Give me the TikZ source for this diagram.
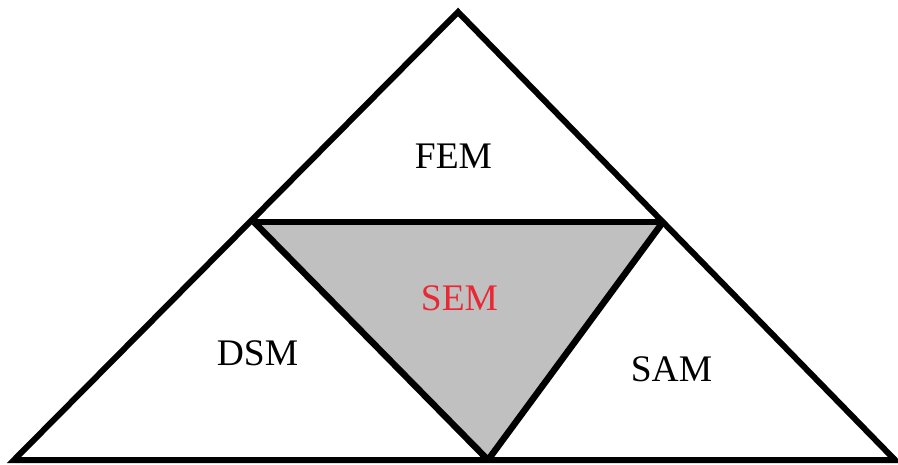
\documentclass[tikz,border=0pt]{standalone}
\usepackage{fontspec}
\setmainfont{Liberation Serif}
\definecolor{semred}{RGB}{232,40,52}
\definecolor{semgray}{RGB}{192,192,192}
\tikzset{
  edge/.style={line width=6pt, line join=miter, draw=black},
  inner/.style={line width=6.5pt, line join=bevel, draw=black},
  lbl/.style={font=\fontsize{37.5}{40}\selectfont, anchor=base, inner sep=0pt}
}
\begin{document}
\begin{tikzpicture}[x=1pt,y=-1pt]
\useasboundingbox (0,0) rectangle (898,464);
\coordinate (A) at (458,12);
\coordinate (L) at (14,460);
\coordinate (R) at (895,460);
\coordinate (P) at (254,222);
\coordinate (Q) at (663,222);
\coordinate (B) at (488,460);
\fill[semgray] (P) -- (Q) -- (B) -- cycle;
\draw[inner] (P) -- (Q);
\draw[inner] (P) -- (B) -- (Q);
\draw[edge] (A) -- (L) -- (R) -- cycle;
\node[lbl] (fem) at (453.5,168) {FEM};
\node[lbl] (dsm) at (257.5,365) {DSM};
\node[lbl, text=semred] (sem) at (459.5,310) {SEM};
\node[lbl] (sam) at (671.5,381) {SAM};
\end{tikzpicture}
\end{document}
